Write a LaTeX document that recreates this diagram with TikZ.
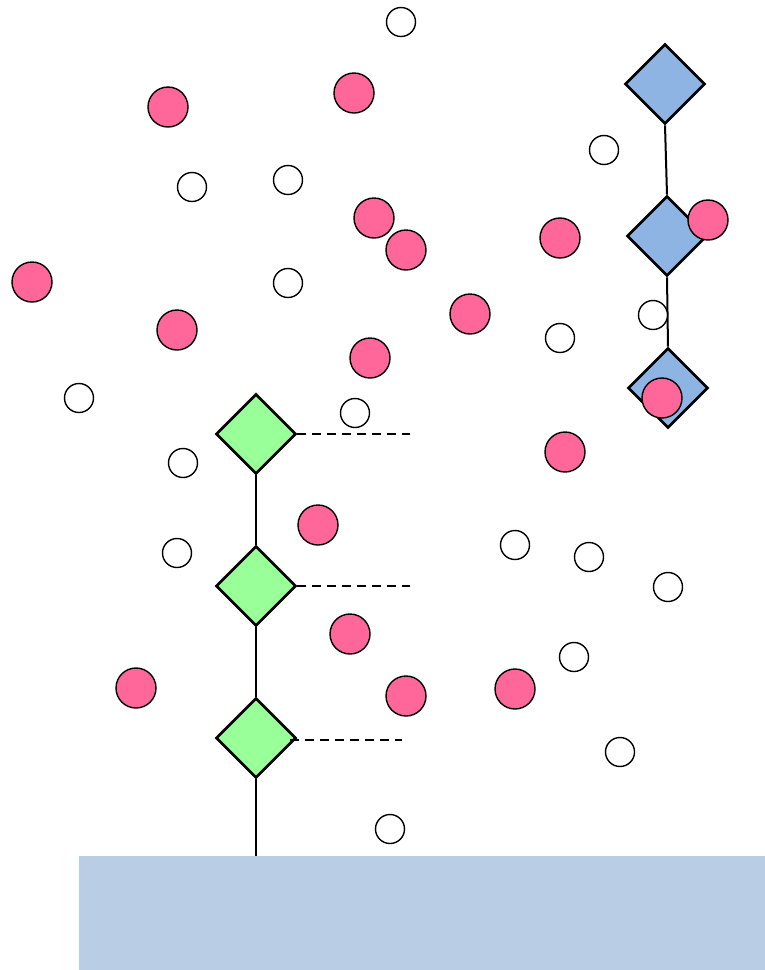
\documentclass[tikz,border=0pt]{standalone}
\usetikzlibrary{shapes.geometric}
\definecolor{pinkc}{HTML}{FF6699}
\definecolor{greenc}{HTML}{99FF99}
\definecolor{bluec}{HTML}{8EB4E3}
\definecolor{basec}{HTML}{B9CDE5}
\tikzset{
  dia/.style={diamond,draw=black,line width=2.6pt,minimum width=80pt,minimum height=80pt,inner sep=0pt,aspect=1},
  gdia/.style={dia,fill=greenc},
  bdia/.style={dia,fill=bluec},
  pc/.style={circle,draw=black,line width=1.4pt,fill=pinkc,minimum size=40pt,inner sep=0pt},
  wc/.style={circle,draw=black,line width=1.4pt,fill=white,minimum size=29pt,inner sep=0pt},
  link/.style={line width=2pt},
  dlink/.style={line width=2pt,dash pattern=on 9pt off 6pt}
}
\begin{document}
\begin{tikzpicture}[x=1pt,y=-1pt]
\useasboundingbox (0,0) rectangle (765,970);
\fill[basec] (79,856) rectangle (765,970);
\coordinate (base) at (256,856);
% green chain
\node[gdia] (g1) at (256,434) {};
\node[gdia] (g2) at (256,586) {};
\node[gdia] (g3) at (256,738) {};
\coordinate (e1) at (410,434);
\coordinate (e2) at (410,586);
\coordinate (e3) at (402,740);
\draw[link] (g1.south) -- (g2.north);
\draw[link] (g2.south) -- (g3.north);
\draw[link] (g3.south) -- (base);
\draw[dlink] (g1.east) -- (e1);
\draw[dlink] (g2.east) -- (e2);
\draw[dlink] (290,740) -- (e3);
% blue chain
\node[bdia] (b1) at (665,84) {};
\node[bdia] (b2) at (667,236) {};
\node[bdia] (b3) at (668,388) {};
\draw[link] (b1.south) -- (b2.north);
\draw[link] (b2.south) -- (b3.north);
% pink circles
\foreach \x/\y [count=\i] in {168/107,354/93,374/218,406/250,560/238,708/220,32/282,177/330,470/314,370/358,662/398,565/452,318/525,350/634,136/688,406/696,515/689}
  \node[pc] (p\i) at (\x,\y) {};
% white circles
\foreach \x/\y [count=\i] in {401/22,604/150,192/187,288/180,288/283,560/338,653/315,79/398,355/413,183/463,177/553,515/545,589/557,668/587,574/657,620/752,390/829}
  \node[wc] (w\i) at (\x,\y) {};
\end{tikzpicture}
\end{document}
